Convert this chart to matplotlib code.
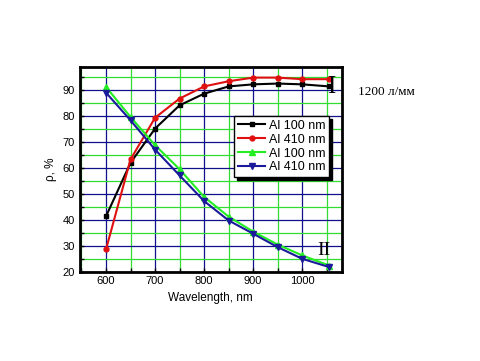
import matplotlib
matplotlib.use("Agg")
import matplotlib.pyplot as plt
from matplotlib.ticker import MultipleLocator

# wavelength points, nm
wl = [600, 650, 700, 750, 800, 850, 900, 950, 1000, 1055]

# reflectance, %
al100_a = [41.3, 62.0, 75.2, 84.2, 88.7, 91.5, 92.3, 92.6, 92.3, 91.5]
al410_a = [28.5, 63.3, 79.4, 86.8, 91.5, 93.5, 94.9, 94.9, 94.3, 94.3]
al100_b = [91.3, 79.7, 68.8, 59.5, 48.8, 41.2, 35.4, 30.4, 26.2, 22.3]
al410_b = [89.1, 78.4, 67.1, 57.1, 47.2, 39.7, 34.6, 29.4, 24.9, 21.7]

labels = ["Al 100 nm", "Al 410 nm", "Al 100 nm", "Al 410 nm"]

plt.rcParams['font.family'] = ['Liberation Sans', 'DejaVu Sans']

fig = plt.figure(figsize=(4.81, 3.61), dpi=100)
ax = fig.add_axes([79.5 / 481, 1 - 271.5 / 361, 262 / 481, 204.5 / 361])

ax.plot(wl, al100_a, '-s', color='black', lw=1.5, ms=3.5, label=labels[0])
ax.plot(wl, al410_a, '-o', color='#e01010', lw=1.5, ms=3.5, label=labels[1])
ax.plot(wl, al100_b, '-^', color='#22ee22', lw=1.5, ms=4, label=labels[2])
ax.plot(wl, al410_b, '-v', color='#1a1a9a', lw=1.5, ms=4, label=labels[3])

ax.set_xlim(546, 1080)
ax.set_ylim(20, 99)
ax.xaxis.set_major_locator(MultipleLocator(100))
ax.xaxis.set_minor_locator(MultipleLocator(50))
ax.yaxis.set_major_locator(MultipleLocator(10))
ax.yaxis.set_minor_locator(MultipleLocator(5))
ax.grid(which='major', color='#10108a', lw=0.9)
ax.grid(which='minor', color='#30dd30', lw=0.9)
ax.set_axisbelow(True)
ax.tick_params(which='both', direction='in', labelsize=8, length=3, width=1)
for s in ax.spines.values():
    s.set_linewidth(2)

ax.set_xlabel("Wavelength, nm", fontsize=8.5)
ax.set_ylabel("ρ, %", fontsize=8.5)

ax.text(1060, 91.3, "I", family='Liberation Serif', fontsize=18,
        ha='center', va='center', clip_on=False)
ax.text(1044, 28.3, "II", family='Liberation Serif', fontsize=14,
        ha='center', va='center')
fig.text(358 / 481, 1 - 92 / 361, "1200 л/мм", family='Liberation Serif',
         fontsize=9.5, va='center')

leg = ax.legend(loc='upper left', bbox_to_anchor=(0.59, 0.76), fontsize=9,
                fancybox=False, framealpha=1, edgecolor='black',
                shadow={'color': 'black', 'alpha': 1},
                handlelength=2.2, handletextpad=0.3, labelspacing=0.15,
                borderpad=0.3, borderaxespad=0)
leg.get_frame().set_linewidth(1)

fig.savefig("out.png", dpi=100)
